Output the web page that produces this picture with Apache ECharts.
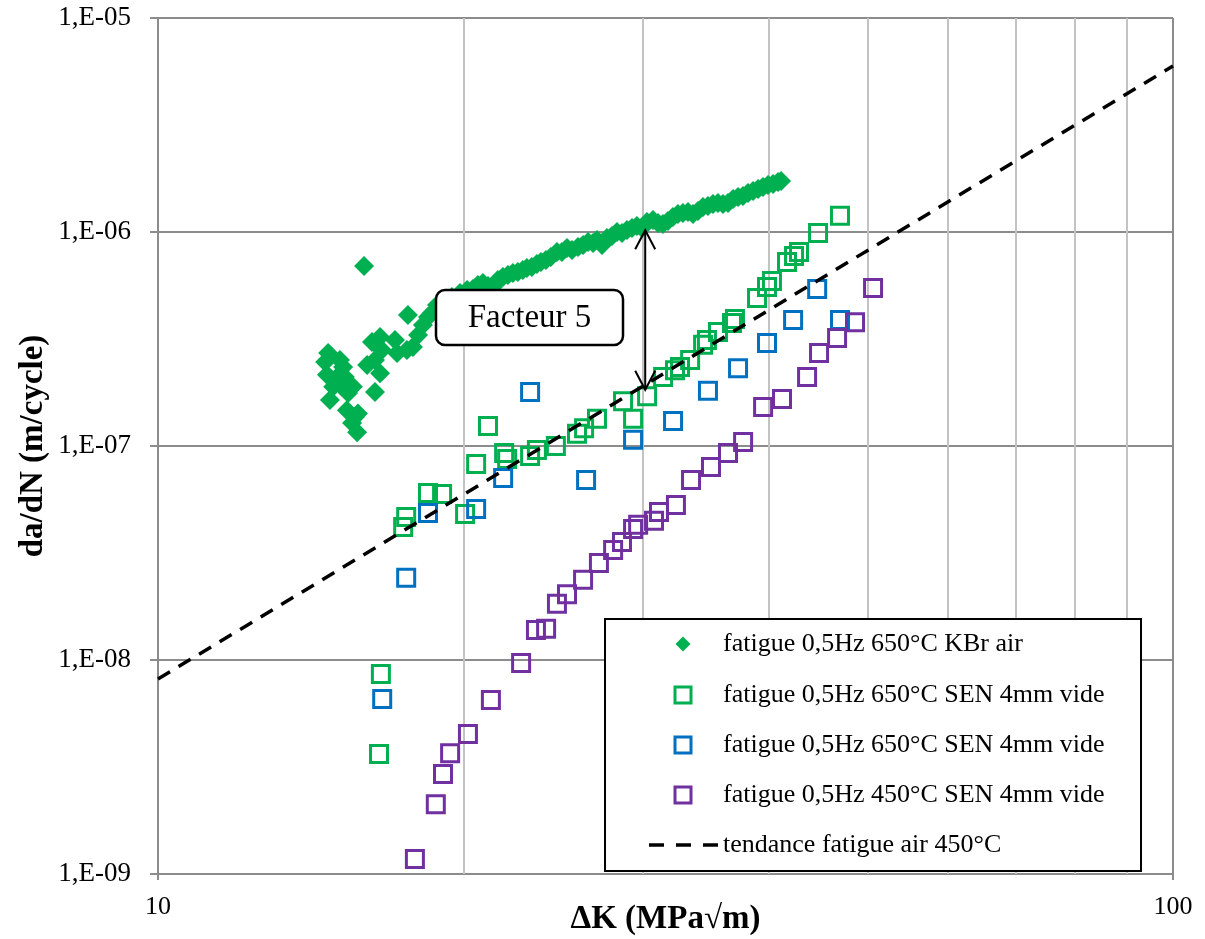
<!DOCTYPE html>
<html><head><meta charset="utf-8">
<script src="https://cdn.jsdelivr.net/npm/echarts@6/dist/echarts.min.js"></script>
<style>html,body{margin:0;padding:0;background:#fff}#c{width:1205px;height:939px}</style>
</head><body><div id="c"></div>
<script>
// ---- data (ΔK in MPa√m, da/dN in m/cycle) ----
const kbrK = [15.96,
 14.71,14.61,14.67,15.11,15.22,14.98,15.28,14.88,15.18,14.77,15.39,15.56,15.35,15.64,15.53,15.74,15.71,
 16.25,16.55,16.07,16.36,16.55,16.36,16.62,17.12,17.20,17.59,17.83,17.63,18.04,18.24,18.45,18.62,
 18.83,19.18,19.48,19.84,20.16,20.43,20.66,20.90,21.14,21.38,21.62,21.87,22.12,22.37,22.62,22.88,23.09,23.35,23.62,23.84,
 24.11,24.38,24.72,25.00,25.29,25.58,25.93,26.23,26.53,26.83,27.07,27.38,27.69,28.01,28.33,28.65,28.98,29.31,29.64,29.98,
 30.32,30.74,31.09,31.44,31.80,32.16,32.53,32.90,33.28,33.66,34.04,34.43,34.82,35.22,35.62,36.03,36.44,36.86,37.28,37.70,
 38.13,38.57,39.01,39.45,39.90,40.36,40.82,41.10];
const kbrRate = [6.93e-7,
 2.72e-7,2.47e-7,2.15e-7,2.52e-7,2.34e-7,2.08e-7,2.10e-7,1.89e-7,1.89e-7,1.64e-7,1.77e-7,1.89e-7,1.47e-7,1.37e-7,1.28e-7,1.42e-7,1.16e-7,
 3.06e-7,3.23e-7,2.39e-7,2.52e-7,2.19e-7,1.79e-7,2.81e-7,3.13e-7,2.72e-7,2.81e-7,2.90e-7,4.09e-7,3.30e-7,3.68e-7,4.01e-7,4.18e-7,
 4.56e-7,4.81e-7,4.97e-7,5.19e-7,5.36e-7,5.41e-7,5.66e-7,5.78e-7,5.59e-7,5.53e-7,5.97e-7,6.16e-7,6.29e-7,6.43e-7,6.50e-7,6.64e-7,6.79e-7,6.86e-7,7.09e-7,7.24e-7,
 7.40e-7,7.64e-7,8.06e-7,8.06e-7,8.42e-7,8.24e-7,8.51e-7,8.69e-7,8.98e-7,8.88e-7,9.18e-7,8.69e-7,9.37e-7,9.58e-7,1.00e-6,9.89e-7,1.022e-6,1.044e-6,1.067e-6,1.044e-6,
 1.114e-6,1.138e-6,1.102e-6,1.090e-6,1.126e-6,1.175e-6,1.214e-6,1.227e-6,1.240e-6,1.214e-6,1.254e-6,1.309e-6,1.323e-6,1.352e-6,1.366e-6,1.352e-6,1.366e-6,1.426e-6,1.457e-6,1.473e-6,
 1.521e-6,1.555e-6,1.588e-6,1.623e-6,1.658e-6,1.676e-6,1.713e-6,1.731e-6];

const sen650aK = [16.51,16.58,17.44,17.56,18.45,19.05,20.07,20.58,21.14,21.93,22.08,23.26,23.62,24.66,25.87,26.29,27.07,28.72,29.38,30.33,31.45,32.31,32.68,33.44,34.44,34.74,35.62,36.77,37.02,38.92,39.81,40.26,41.66,42.33,42.81,44.70,46.98];
const sen650aRate = [3.64e-9,8.61e-9,4.18e-8,4.66e-8,6.03e-8,5.97e-8,4.81e-8,8.24e-8,1.24e-7,9.27e-8,8.69e-8,8.98e-8,9.57e-8,1.00e-7,1.14e-7,1.21e-7,1.34e-7,1.62e-7,1.34e-7,1.71e-7,2.10e-7,2.26e-7,2.34e-7,2.52e-7,2.97e-7,3.13e-7,3.41e-7,3.76e-7,3.92e-7,4.92e-7,5.53e-7,5.90e-7,7.24e-7,7.73e-7,8.07e-7,9.89e-7,1.19e-6];

const sen650bK = [16.63,17.56,18.45,20.58,21.88,23.26,26.41,29.38,32.17,34.82,37.28,39.81,42.24,44.61,46.98];
const sen650bRate = [6.58e-9,2.42e-8,4.86e-8,5.08e-8,7.08e-8,1.79e-7,6.93e-8,1.07e-7,1.31e-7,1.81e-7,2.31e-7,3.03e-7,3.88e-7,5.42e-7,3.88e-7];

const sen450K = [17.91,18.78,19.09,19.40,20.20,21.28,22.79,23.57,24.12,24.72,25.29,26.23,27.19,28.08,28.65,29.38,29.72,30.81,31.16,32.38,33.51,35.06,36.44,37.71,39.46,41.19,43.60,44.80,46.67,48.61,50.64];
const sen450Rate = [1.175e-9,2.12e-9,2.93e-9,3.67e-9,4.51e-9,6.50e-9,9.68e-9,1.38e-8,1.40e-8,1.83e-8,2.03e-8,2.37e-8,2.84e-8,3.27e-8,3.56e-8,4.09e-8,4.28e-8,4.47e-8,4.92e-8,5.30e-8,6.93e-8,7.98e-8,9.27e-8,1.045e-7,1.52e-7,1.66e-7,2.10e-7,2.72e-7,3.20e-7,3.79e-7,5.47e-7];

const trendK = [10, 100];
const trendRate = [8.15e-9, 5.97e-6];

const seriesNames = ['fatigue 0,5Hz 650°C KBr air','fatigue 0,5Hz 650°C SEN 4mm vide','fatigue 0,5Hz 650°C SEN 4mm vide','fatigue 0,5Hz 450°C SEN 4mm vide','tendance fatigue air 450°C'];
const colors = ['#00B050','#00B050','#0070C0','#7030A0','#000000'];

const xMinorGrid = [20,30,40,50,60,70,80,90];
const yDecades = [1e-9,1e-8,1e-7,1e-6];
const yMults = [2,3,4,5,6,7,8,9];

const arrowK = 30.2, arrowTop = 1.02e-6, arrowBottom = 1.83e-7;
const annotationText = 'Facteur 5';
const xTitle = 'ΔK (MPa√m)';
const yTitle = 'da/dN (m/cycle)';

// ---- build ----
const zip = (a, b) => a.map((v, i) => [v, b[i]]);
const yMinorGrid = [];
yDecades.forEach(d => yMults.forEach(m => yMinorGrid.push(+(d * m).toPrecision(3))));

const FONT = 'Liberation Serif';
const chart = echarts.init(document.getElementById('c'));

const squareStyle = c => ({ color: 'rgba(0,0,0,0)', borderColor: c, borderWidth: 3, opacity: 1 });

chart.setOption({
  animation: false,
  backgroundColor: '#fff',
  grid: { left: 158, right: 32, top: 18, bottom: 65, containLabel: false, outerBoundsMode: 'none' },
  xAxis: {
    type: 'log', logBase: 10, min: 10, max: 100, splitNumber: 1,
    name: xTitle, nameLocation: 'middle', nameGap: 29, nameMoveOverlap: false,
    nameTextStyle: { fontFamily: FONT, fontWeight: 'bold', fontSize: 33, color: '#000' },
    axisLine: { lineStyle: { color: '#8c8c8c', width: 2 } },
    axisTick: { show: true, length: 6, lineStyle: { color: '#8c8c8c', width: 2 } },
    axisLabel: { fontFamily: FONT, fontSize: 26, color: '#000', margin: 20 },
    splitLine: { show: true, lineStyle: { color: '#8c8c8c', width: 2 } }
  },
  yAxis: {
    type: 'log', logBase: 10, min: 1e-9, max: 1e-5, splitNumber: 4,
    name: yTitle, nameLocation: 'middle', nameGap: 108, nameMoveOverlap: false,
    nameTextStyle: { fontFamily: FONT, fontWeight: 'bold', fontSize: 33, color: '#000' },
    axisLine: { lineStyle: { color: '#8c8c8c', width: 2 } },
    axisTick: { show: true, length: 8, lineStyle: { color: '#8c8c8c', width: 2 } },
    axisLabel: {
      fontFamily: FONT, fontSize: 27, color: '#000', margin: 27,
      formatter: v => { const e = Math.round(Math.log10(v)); return '1,E' + (e < 0 ? '-' : '+') + String(Math.abs(e)).padStart(2, '0'); }
    },
    splitLine: { show: true, lineStyle: { color: '#8c8c8c', width: 2 } }
  },
  series: [
    {
      type: 'line', name: 'grid', data: [], silent: true,
      markLine: {
        silent: true, z: 1, symbol: ['none', 'none'], label: { show: false },
        lineStyle: { color: '#c3c3c3', width: 2, type: 'solid' },
        emphasis: { disabled: true },
        data: xMinorGrid.map(v => ({ xAxis: v })).concat(yMinorGrid.map(v => ({ yAxis: v })))
      }
    },
    { type: 'scatter', name: seriesNames[0], data: zip(kbrK, kbrRate), symbol: 'diamond', symbolSize: 20, itemStyle: { color: colors[0], opacity: 1 }, z: 3 },
    { type: 'scatter', name: seriesNames[1], data: zip(sen650aK, sen650aRate), symbol: 'rect', symbolSize: 17, itemStyle: squareStyle(colors[1]), z: 3 },
    { type: 'scatter', name: seriesNames[2], data: zip(sen650bK, sen650bRate), symbol: 'rect', symbolSize: 17, itemStyle: squareStyle(colors[2]), z: 3 },
    { type: 'scatter', name: seriesNames[3], data: zip(sen450K, sen450Rate), symbol: 'rect', symbolSize: 17, itemStyle: squareStyle(colors[3]), z: 3 },
    { type: 'line', name: seriesNames[4], data: zip(trendK, trendRate), showSymbol: false, symbol: 'none', z: 4,
      lineStyle: { color: '#000', width: 3.5, type: [14, 10] } }
  ]
});

// ---- annotations & legend (positions from the axes) ----
const pTop = chart.convertToPixel({ gridIndex: 0 }, [arrowK, arrowTop]);
const pBot = chart.convertToPixel({ gridIndex: 0 }, [arrowK, arrowBottom]);
const ax = pTop[0];
const arrowStyle = { stroke: '#000', lineWidth: 2, fill: null };

const legendX = 605, legendY = 619, legendW = 536, legendH = 252;
const rowY = [644, 695, 745, 795, 845];
const symX = 683, textX = 723;
const legendItems = [];
legendItems.push({ type: 'rect', shape: { x: legendX, y: legendY, width: legendW, height: legendH }, style: { fill: '#fff', stroke: '#000', lineWidth: 2 }, z: 100 });
legendItems.push({ type: 'polygon', shape: { points: [[symX, rowY[0] - 7.5], [symX + 7.5, rowY[0]], [symX, rowY[0] + 7.5], [symX - 7.5, rowY[0]]] }, style: { fill: colors[0] }, z: 101 });
[1, 2, 3].forEach(i => {
  legendItems.push({ type: 'rect', shape: { x: symX - 8, y: rowY[i] - 8, width: 16, height: 16 }, style: { fill: null, stroke: colors[i], lineWidth: 3 }, z: 101 });
});
legendItems.push({ type: 'line', shape: { x1: 649, y1: rowY[4], x2: 718, y2: rowY[4] }, style: { stroke: '#000', lineWidth: 3.5, lineDash: [15, 12] }, z: 101 });
seriesNames.forEach((n, i) => {
  legendItems.push({ type: 'text', x: textX, y: rowY[i], style: { text: n, font: '26px "' + FONT + '"', fill: '#000', verticalAlign: 'middle' }, z: 101 });
});

chart.setOption({
  graphic: [
    { type: 'line', shape: { x1: ax, y1: pTop[1], x2: ax, y2: pBot[1] }, style: arrowStyle, z: 90 },
    { type: 'polyline', shape: { points: [[ax - 10, pTop[1] + 19], [ax, pTop[1]], [ax + 10, pTop[1] + 19]] }, style: arrowStyle, z: 90 },
    { type: 'polyline', shape: { points: [[ax - 10, pBot[1] - 19], [ax, pBot[1]], [ax + 10, pBot[1] - 19]] }, style: arrowStyle, z: 90 },
    { type: 'rect', shape: { x: 436, y: 290, width: 187, height: 55, r: 9 }, style: { fill: '#fff', stroke: '#000', lineWidth: 2.5 }, z: 95 },
    { type: 'text', x: 529.5, y: 318, style: { text: annotationText, font: '33px "' + FONT + '"', fill: '#000', align: 'center', verticalAlign: 'middle' }, z: 96 }
  ].concat(legendItems)
});
</script>
</body></html>
